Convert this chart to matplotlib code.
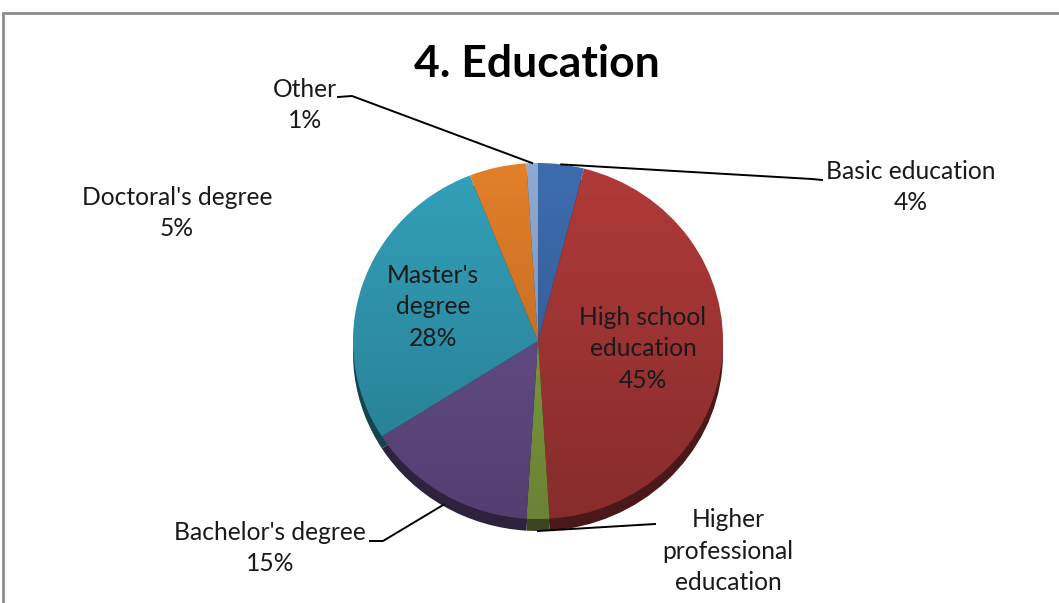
import numpy as np
import matplotlib.pyplot as plt
from matplotlib.colors import to_rgb
from matplotlib.patches import Ellipse

# education breakdown, clockwise from 12 o'clock
categories = ["Basic education", "High school education", "Higher professional education",
              "Bachelor's degree", "Master's degree", "Doctoral's degree", "Other"]
shares = [4, 45, 2, 15, 28, 5, 1]
colors = ["#3d6cae", "#b03a39", "#8aaa45", "#6c5393", "#33a0ba", "#e37f29", "#8faad2"]

W, H = 1059, 603
FONT = "Lato"

# pie geometry in pixels (slightly squashed ellipse + visible rim)
cx, cy, rx, ry, depth = 538, 341, 185, 178, 12

fig = plt.figure(figsize=(W / 100, H / 100), dpi=100)
bg = fig.add_axes([0, 0, 1, 1])
bg.set_xlim(0, W)
bg.set_ylim(H, 0)
bg.axis("off")

# chart frame
bg.plot([3, 3, W], [H, 13, 13], color="#8c8c8c", lw=2, solid_joinstyle="miter")

pax = fig.add_axes([(cx - rx) / W, 1 - (cy + ry + depth) / H, 2 * rx / W, (2 * ry + depth) / H])


def darken(c, f):
    r, g, b = to_rgb(c)
    return (r * f, g * f, b * f)


side = [darken(c, 0.42) for c in colors]
pax.pie(shares, colors=side, startangle=90, counterclock=False, radius=1,
        center=(0, -depth / ry), wedgeprops=dict(linewidth=0))
pax.pie(shares, colors=colors, startangle=90, counterclock=False, radius=1,
        center=(0, 0), wedgeprops=dict(linewidth=0))

# top-to-bottom shading on the face
grad = np.zeros((256, 1, 4))
grad[:, 0, 3] = np.linspace(0.0, 0.24, 256)
im = pax.imshow(grad, extent=(-1, 1, -1, 1), aspect="auto", origin="upper", zorder=5)
im.set_clip_path(Ellipse((0, 0), 2, 2, transform=pax.transData))

pax.set_aspect("auto")
pax.set_xlim(-1, 1)
pax.set_ylim(-1 - depth / ry, 1)
pax.axis("off")

# labels and leader lines sit on top of the pie
top = fig.add_axes([0, 0, 1, 1])
top.set_xlim(0, W)
top.set_ylim(H, 0)
top.axis("off")


def edge_point(i, extra=0.0):
    cum = sum(shares[:i]) + shares[i] / 2
    th = np.deg2rad(360 * cum / sum(shares))
    return cx + rx * np.sin(th), cy - ry * np.cos(th) + extra * max(0, -np.cos(th))


txt = dict(fontsize=17.7, family=FONT, ha="center", va="center", linespacing=1.46, color="#1a1a1a")

top.text(537, 64, "4. Education", fontsize=32, fontweight="bold", family=FONT, ha="center", va="center")

top.text(305, 105, f"Other\n{shares[6]}%", **txt)
top.text(911, 187, f"Basic education\n{shares[0]}%", **txt)
top.text(177, 213, f"Doctoral's degree\n{shares[5]}%", **txt)
top.text(433, 307, f"Master's\ndegree\n{shares[4]}%", **txt)
top.text(643, 349, f"High school\neducation\n{shares[1]}%", **txt)
top.text(270, 548, f"Bachelor's degree\n{shares[3]}%", **txt)
top.text(728, 567, f"Higher\nprofessional\neducation\n{shares[2]}%", **txt)

lk = dict(color="black", lw=1.4)
ex, ey = edge_point(6)
top.plot([338, 352, ex], [97, 96, ey], **lk)
ex, ey = edge_point(0)
top.plot([ex, 812, 822], [ey, 179, 180], **lk)
ex, ey = edge_point(2, depth)
top.plot([ex, 655], [ey, 524], **lk)
ex, ey = edge_point(3, depth)
top.plot([370, 383, ex], [541, 541, ey], **lk)

fig.savefig("out.png", dpi=100)
